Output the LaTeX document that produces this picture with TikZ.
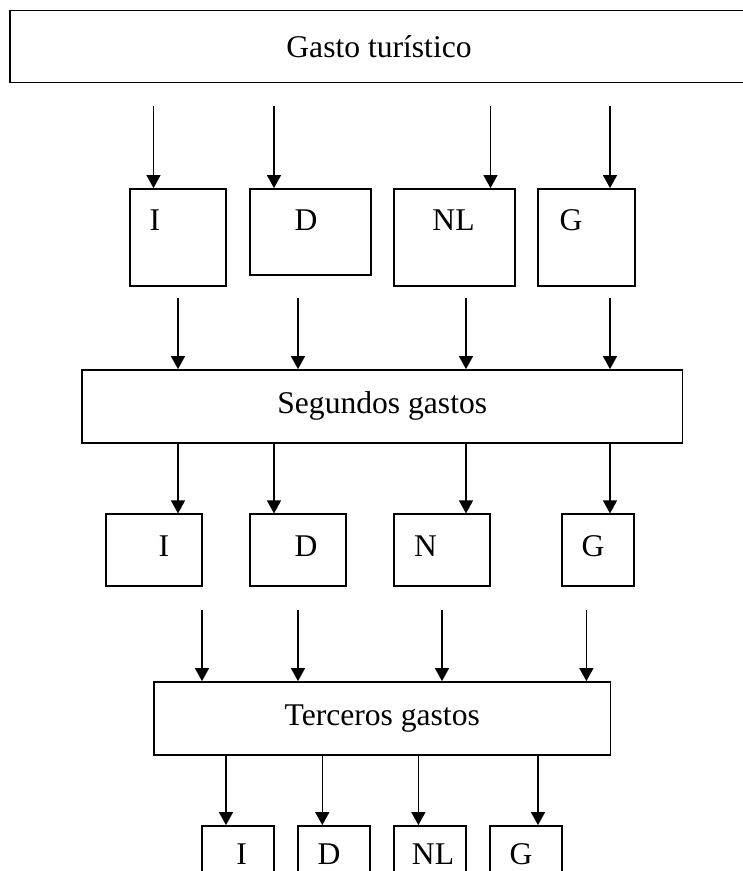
\documentclass[tikz,border=0pt]{standalone}
\usepackage{fontspec}
\setmainfont{Liberation Serif}
\usetikzlibrary{arrows.meta}

\begin{document}
\begin{tikzpicture}[x=1pt,y=-1pt,
  caja/.style={rectangle, draw=black, line width=1.8pt, inner sep=0pt},
  flecha/.style={line width=1.3pt, -{Triangle[length=13pt,width=14pt]}},
  letra/.style={inner sep=0pt, font=\fontsize{31.6}{38}\selectfont}]
\useasboundingbox (0,0) rectangle (743,871);

% gasto inicial
\node[caja, letra, minimum width=738pt, minimum height=72pt] (gasto) at (379,46.4) {Gasto turístico};

% primera ronda
\node[caja, minimum width=96pt, minimum height=97pt] (I1) at (178,237.5) {};
\node[caja, minimum width=120.6pt, minimum height=86pt] (D1) at (310.3,232) {};
\node[caja, minimum width=121pt, minimum height=97pt] (NL1) at (454.5,237.5) {};
\node[caja, minimum width=96.6pt, minimum height=97pt] (G1) at (586.3,237.5) {};
\node[letra] (tI1) at (155,220) {I};
\node[letra] (tD1) at (306,220) {D};
\node[letra] (tNL1) at (453.5,220) {NL};
\node[letra] (tG1) at (571,220) {G};

\foreach \x/\b in {153.5/I1, 274/D1, 490.5/NL1, 610/G1} {
  \coordinate (s\b) at (\x,106);
  \draw[flecha] (s\b) -- (s\b |- \b.north);
}

% segundos gastos
\node[caja, letra, minimum width=600.5pt, minimum height=72.7pt] (seg) at (382.25,406.35) {Segundos gastos};

\foreach \x/\b in {178/I1, 298/D1, 466/NL1, 610/G1} {
  \coordinate (r\b) at (\x,298);
  \draw[flecha] (r\b) -- (r\b |- seg.north);
}

\node[caja, minimum width=96pt, minimum height=71.7pt] (I2) at (154,550.2) {};
\node[caja, minimum width=96pt, minimum height=71.7pt] (D2) at (298,550.2) {};
\node[caja, minimum width=96pt, minimum height=71.7pt] (N2) at (442,550.2) {};
\node[caja, minimum width=72pt, minimum height=71.7pt] (G2) at (598,550.2) {};
\node[letra] (tI2) at (164,545.7) {I};
\node[letra] (tD2) at (306,545.7) {D};
\node[letra] (tN2) at (425.6,545.7) {N};
\node[letra] (tG2) at (593,545.7) {G};

\foreach \x/\b in {178/I2, 274/D2, 466/N2, 610/G2}
  \draw[flecha] (\x,0 |- seg.south) -- (\x,0 |- \b.north);

% terceros gastos
\node[caja, letra, minimum width=456.5pt, minimum height=73pt] (ter) at (382.25,718.5) {Terceros gastos};

\foreach \x/\b in {202/I2, 298/D2, 442/N2, 586.4/G2} {
  \coordinate (q\b) at (\x,610);
  \draw[flecha] (q\b) -- (q\b |- ter.north);
}

\node[caja, minimum width=72pt, minimum height=80pt] (I3) at (238.2,866) {};
\node[caja, minimum width=72pt, minimum height=80pt] (D3) at (334,866) {};
\node[caja, minimum width=72pt, minimum height=80pt] (NL3) at (430,866) {};
\node[caja, minimum width=72pt, minimum height=80pt] (G3) at (526,866) {};
\node[letra] (tI3) at (241.6,854) {I};
\node[letra] (tD3) at (329,854) {D};
\node[letra] (tNL3) at (433,854) {NL};
\node[letra] (tG3) at (521,854) {G};

\foreach \x/\b in {226/I3, 322.3/D3, 418.4/NL3, 538/G3}
  \draw[flecha] (\x,0 |- ter.south) -- (\x,0 |- \b.north);
\end{tikzpicture}
\end{document}
